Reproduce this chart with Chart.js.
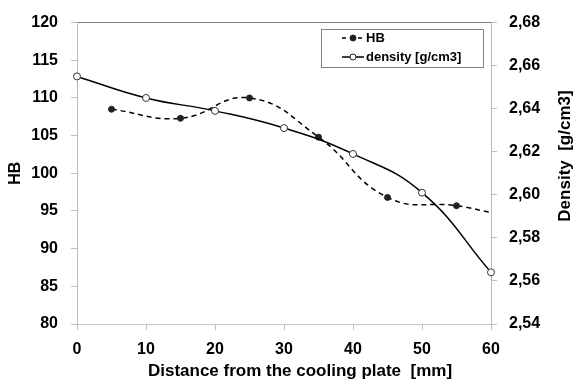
<!DOCTYPE html>
<html><head><meta charset="utf-8">
<script src="https://cdn.jsdelivr.net/npm/chart.js@4"></script>
<style>html,body{margin:0;padding:0;background:#fff}#wrap{width:574px;height:383px;position:relative}</style>
</head><body><div id="wrap"><canvas id="c" width="574" height="383"></canvas></div>
<script>
const hbX = [5, 15, 25, 35, 45, 55, 60];
const hbValues = [108.5, 107.3, 110.0, 104.8, 96.8, 95.7, 94.8];
const hbMarkers = [1, 1, 1, 1, 1, 1, 0];
const densityX = [0, 10, 20, 30, 40, 50, 60];
const densityValues = [2.655, 2.645, 2.639, 2.631, 2.619, 2.601, 2.564];
const xTicks = [0, 10, 20, 30, 40, 50, 60];
const hbTicks = [80, 85, 90, 95, 100, 105, 110, 115, 120];
const densityTicks = [2.54, 2.56, 2.58, 2.60, 2.62, 2.64, 2.66, 2.68];
const xTitle = 'Distance from the cooling plate  [mm]';
const hbTitle = 'HB';
const densityTitle = 'Density  [g/cm3]';
const hbLabel = 'HB';
const densityLabel = 'density [g/cm3]';

const FONT = '"Liberation Sans", Arial, sans-serif';

const overlay = {
  id: 'overlay',
  afterDraw(chart) {
    const ctx = chart.ctx;
    ctx.save();
    // x title
    ctx.fillStyle = '#000';
    ctx.font = 'bold 17px ' + FONT;
    ctx.textAlign = 'center';
    ctx.textBaseline = 'middle';
    ctx.fillText(xTitle, 300, 371);
    // right title (bottom-to-top)
    ctx.save();
    ctx.translate(565, 156);
    ctx.rotate(-Math.PI / 2);
    ctx.fillText(densityTitle, 0, 0);
    ctx.restore();
    // legend
    const bx = 321, by = 29, bw = 162, bh = 38;
    ctx.fillStyle = '#fff';
    ctx.fillRect(bx, by, bw, bh);
    ctx.strokeStyle = '#808080';
    ctx.lineWidth = 1;
    ctx.strokeRect(bx + 0.5, by + 0.5, bw, bh);
    ctx.font = 'bold 13px ' + FONT;
    ctx.textAlign = 'left';
    const rows = [
      {label: hbLabel, dash: [4, 4], fill: '#222', y: 38},
      {label: densityLabel, dash: [], fill: '#fff', y: 57}
    ];
    rows.forEach(r => {
      ctx.strokeStyle = '#000';
      ctx.lineWidth = 1.5;
      ctx.setLineDash(r.dash);
      ctx.beginPath();
      ctx.moveTo(342, r.y); ctx.lineTo(364, r.y); ctx.stroke();
      ctx.setLineDash([]);
      ctx.beginPath();
      ctx.arc(353, r.y, 3, 0, Math.PI * 2);
      ctx.fillStyle = r.fill; ctx.fill();
      ctx.lineWidth = 1; ctx.strokeStyle = '#222'; ctx.stroke();
      ctx.fillStyle = '#000';
      ctx.fillText(r.label, 366, r.y);
    });
    ctx.restore();
  }
};

new Chart(document.getElementById('c'), {
  type: 'line',
  data: {
    datasets: [
      {
        label: densityLabel,
        yAxisID: 'y1',
        data: densityX.map((x, i) => ({x, y: densityValues[i]})),
        borderColor: '#000',
        borderWidth: 1.5,
        tension: 0.45,
        pointRadius: 3.5,
        pointBackgroundColor: '#fff',
        pointBorderColor: '#333',
        pointBorderWidth: 1,
        clip: false
      },
      {
        label: hbLabel,
        yAxisID: 'y',
        data: hbX.map((x, i) => ({x, y: hbValues[i]})),
        borderColor: '#000',
        borderWidth: 1.5,
        borderDash: [5, 4],
        tension: 0.45,
        pointRadius: hbMarkers.map(m => m ? 3 : 0),
        pointBackgroundColor: '#222',
        pointBorderColor: '#222',
        pointBorderWidth: 1,
        clip: false
      }
    ]
  },
  options: {
    responsive: false,
    animation: false,
    devicePixelRatio: 1,
    layout: {padding: {top: 21, left: 0, right: 0, bottom: 0}},
    plugins: {legend: {display: false}, tooltip: {enabled: false}},
    scales: {
      x: {
        type: 'linear', min: 0, max: 60,
        afterBuildTicks: s => { s.ticks = xTicks.map(v => ({value: v})); },
        afterFit: s => { s.height = 59; },
        border: {color: '#c8c8c8', width: 1},
        grid: {drawOnChartArea: false, tickLength: 6, tickColor: '#c0c0c0'},
        ticks: {color: '#000', padding: 10, font: {family: FONT, size: 16, weight: 'bold'}, maxRotation: 0}
      },
      y: {
        position: 'left', min: 80, max: 120,
        afterBuildTicks: s => { s.ticks = hbTicks.map(v => ({value: v})); },
        afterFit: s => { s.width = 77; },
        border: {color: '#b8b8b8', width: 1},
        grid: {
          drawOnChartArea: true, tickLength: 6, tickColor: '#c0c0c0',
          color: c => (c.tick && c.tick.value === 120) ? '#7f7f7f' : 'rgba(0,0,0,0)'
        },
        ticks: {color: '#000', padding: 13, font: {family: FONT, size: 16, weight: 'bold'}},
        title: {display: true, text: hbTitle, color: '#000', padding: {top: 6, bottom: 0}, font: {family: FONT, size: 16, weight: 'bold'}}
      },
      y1: {
        position: 'right', min: 2.54, max: 2.68,
        afterBuildTicks: s => { s.ticks = densityTicks.map(v => ({value: v})); },
        afterFit: s => { s.width = 83; },
        border: {color: '#b8b8b8', width: 1},
        grid: {drawOnChartArea: false, tickLength: 6, tickColor: '#c0c0c0'},
        ticks: {color: '#000', padding: 12, font: {family: FONT, size: 16, weight: 'bold'},
          callback: v => Number(v).toFixed(2).replace('.', ',')}
      }
    }
  },
  plugins: [overlay]
});
</script>
</body></html>
